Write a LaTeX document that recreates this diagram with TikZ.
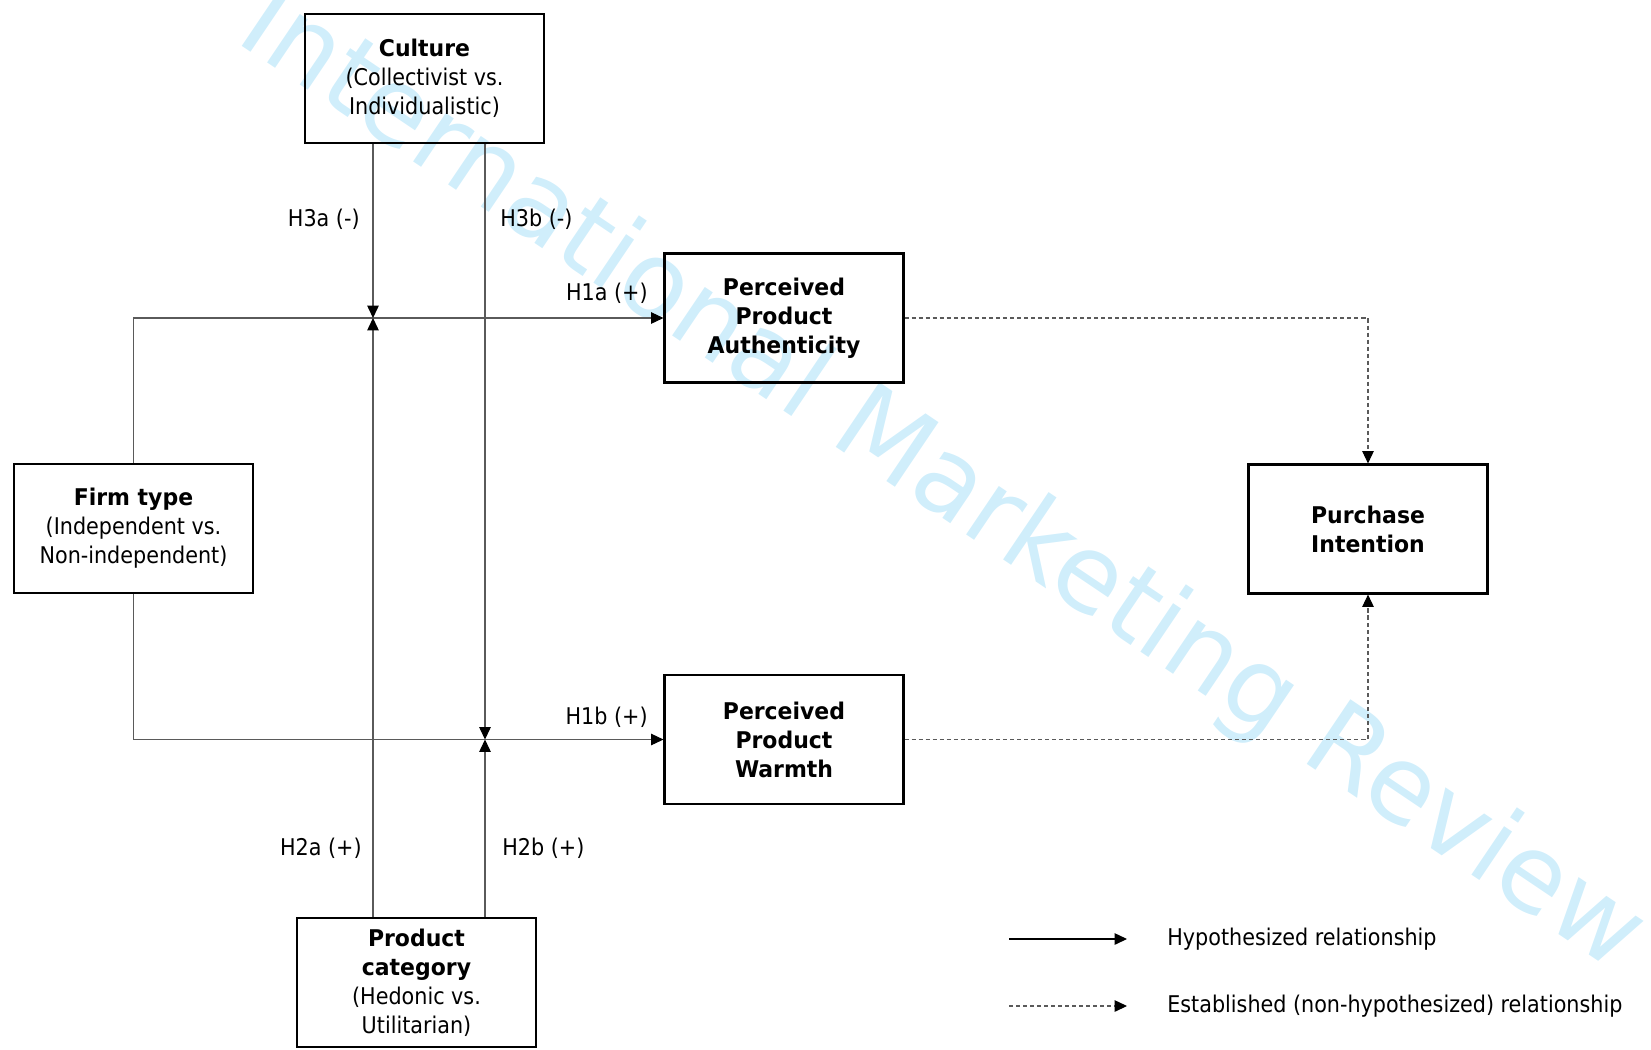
\documentclass[tikz,border=0pt]{standalone}
\usepackage{fontspec}
\setmainfont{DejaVu Sans Condensed}[BoldFeatures={FakeStretch=1.06}]
\newfontfamily\wmfont{DejaVu Sans}
\usepackage{tikz}
\usetikzlibrary{arrows.meta}
\definecolor{wmblue}{RGB}{208,238,251}
\definecolor{linegray}{RGB}{90,90,90}

\begin{document}
\begin{tikzpicture}[
            factor/.style = {draw, rectangle, line width=1.2pt,
                minimum width=4.78cm, minimum height=2.58cm,
                align=center, inner sep=0pt}, % construct boxes
            hyp/.style = {draw=linegray, line width=0.6pt,
                -{Triangle[length=7pt, width=6.5pt, color=black]}}, % hypothesized path
            est/.style = {hyp, dash pattern=on 2.3pt off 1.7pt}, % established path
            lbl/.style = {inner sep=0pt}, % path labels
            font = \fontsize{13.1}{16.5}\selectfont
            ]
            \useasboundingbox (0,0) rectangle (33.02,-20.98);

            % watermark
            \node[wmblue, rotate=-34, anchor=base west, inner sep=0pt,
            font=\wmfont\fontsize{60.9}{60.9}\selectfont] (wm) at (4.66,-0.80) {International Marketing Review};

            \node[factor] (culture) at (8.49,-1.57) {\textbf{Culture}\\(Collectivist vs.\\Individualistic)};
            \node[factor] (firm) at (2.67,-10.57) {\textbf{Firm type}\\(Independent vs.\\Non-independent)};
            \node[factor] (ppa) at (15.68,-6.36) {\textbf{Perceived}\\\textbf{Product}\\\textbf{Authenticity}};
            \node[factor] (ppw) at (15.68,-14.79) {\textbf{Perceived}\\\textbf{Product}\\\textbf{Warmth}};
            \node[factor] (pi) at (27.36,-10.58) {\textbf{Purchase}\\\textbf{Intention}};
            \node[factor] (prodcat) at (8.33,-19.65) {\textbf{Product}\\\textbf{category}\\(Hedonic vs.\\Utilitarian)};

            % moderation points
            \coordinate (j3a) at (7.46,-6.36);
            \coordinate (j3b) at (9.70,-14.79);

            \draw[hyp] (firm.north) |- (ppa.west);
            \draw[hyp] (firm.south) |- (ppw.west);
            \draw[hyp] (culture.south -| j3a) -- (j3a);
            \draw[hyp] (prodcat.north -| j3a) -- (j3a);
            \draw[hyp] (culture.south -| j3b) -- (j3b);
            \draw[hyp] (prodcat.north -| j3b) -- (j3b);
            \draw[est] (ppa.east) -| (pi.north);
            \draw[est] (ppw.east) -| (pi.south);

            \node[lbl, anchor=east] (h3a) at (7.20,-4.38) {H3a (-)};
            \node[lbl, anchor=west] (h3b) at (10.00,-4.38) {H3b (-)};
            \node[lbl, anchor=east] (h1a) at (12.96,-5.86) {H1a (+)};
            \node[lbl, anchor=east] (h1b) at (12.96,-14.34) {H1b (+)};
            \node[lbl, anchor=east] (h2a) at (7.24,-16.96) {H2a (+)};
            \node[lbl, anchor=west] (h2b) at (10.04,-16.96) {H2b (+)};

            % legend
            \coordinate (lg1a) at (20.18,-18.78);
            \coordinate (lg1b) at (22.54,-18.78);
            \coordinate (lg2a) at (20.18,-20.12);
            \coordinate (lg2b) at (22.54,-20.12);
            \draw[hyp, draw=black] (lg1a) -- (lg1b);
            \draw[est] (lg2a) -- (lg2b);
            \node[lbl, anchor=west] (lgt1) at (23.34,-18.78) {Hypothesized relationship};
            \node[lbl, anchor=west] (lgt2) at (23.34,-20.12) {Established (non-hypothesized) relationship};
        \end{tikzpicture}
\end{document}
